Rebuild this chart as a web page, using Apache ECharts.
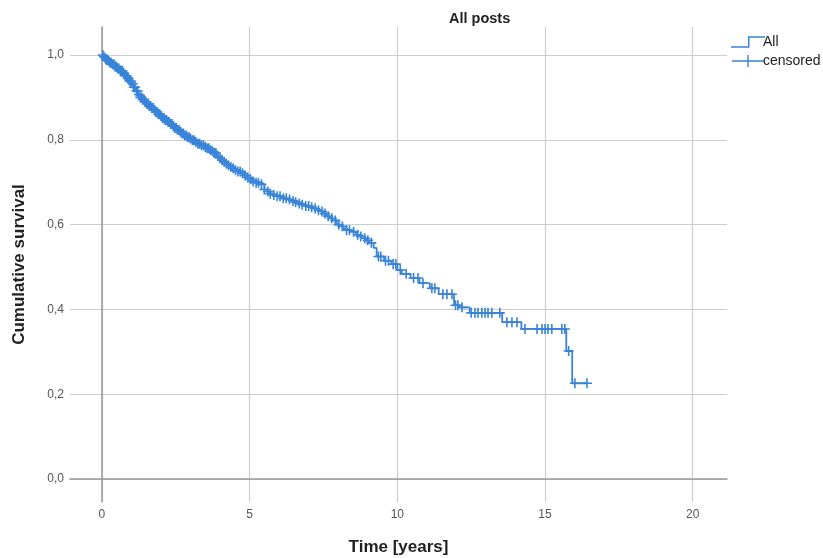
<!DOCTYPE html>
<html>
<head>
<meta charset="utf-8">
<title>All posts</title>
<script src="https://cdn.jsdelivr.net/npm/echarts@6/dist/echarts.min.js"></script>
<style>
  html, body { margin: 0; padding: 0; background: #fff; }
  #chart { width: 823px; height: 558px; }
</style>
</head>
<body>
<div id="chart"></div>
<script>
// Kaplan-Meier curve
const eventTimes = [0, 0.05, 0.1, 0.15, 0.2, 0.27, 0.35, 0.42, 0.5, 0.6, 0.7, 0.78, 0.85, 0.92,
  1.0, 1.08, 1.15, 1.22, 1.3, 1.37, 1.45, 1.52, 1.6, 1.67, 1.75, 1.82, 1.9, 1.97, 2.05, 2.12,
  2.2, 2.3, 2.4, 2.47, 2.55, 2.62, 2.7, 2.8, 2.9, 2.97, 3.05, 3.15, 3.25, 3.35, 3.45, 3.55,
  3.65, 3.72, 3.8, 3.9, 3.97, 4.05, 4.12, 4.2, 4.27, 4.35, 4.42, 4.5, 4.6, 4.7, 4.8, 4.9,
  5.0, 5.1, 5.22, 5.35, 5.5, 5.6, 5.7, 5.8, 5.9, 6.1, 6.25, 6.4, 6.52, 6.65, 6.78, 6.9, 7.02,
  7.15, 7.28, 7.4, 7.5, 7.6, 7.7, 7.8, 7.95, 8.05, 8.15, 8.28, 8.4, 8.6, 8.72, 8.85, 8.95,
  9.05, 9.2, 9.3, 9.55, 9.8, 10.0, 10.15, 10.45, 10.75, 11.1, 11.4, 11.92, 12.1, 12.45,
  13.55, 14.2, 15.72, 15.92];
const survival = [1.0, 0.996, 0.992, 0.988, 0.985, 0.982, 0.978, 0.973, 0.968, 0.963, 0.958,
  0.951, 0.945, 0.938, 0.932, 0.924, 0.915, 0.907, 0.900, 0.895, 0.890, 0.885, 0.880, 0.875,
  0.870, 0.865, 0.860, 0.856, 0.851, 0.847, 0.842, 0.837, 0.832, 0.828, 0.823, 0.819, 0.815,
  0.810, 0.806, 0.803, 0.799, 0.795, 0.791, 0.787, 0.783, 0.780, 0.776, 0.773, 0.769, 0.762,
  0.757, 0.752, 0.748, 0.744, 0.740, 0.736, 0.733, 0.729, 0.725, 0.721, 0.716, 0.711, 0.707,
  0.702, 0.699, 0.695, 0.683, 0.678, 0.673, 0.670, 0.667, 0.662, 0.659, 0.656, 0.653, 0.650,
  0.647, 0.644, 0.641, 0.638, 0.634, 0.631, 0.626, 0.620, 0.615, 0.610, 0.600, 0.596, 0.591,
  0.587, 0.583, 0.576, 0.572, 0.568, 0.563, 0.557, 0.545, 0.525, 0.515, 0.507, 0.493, 0.484,
  0.474, 0.462, 0.450, 0.436, 0.410, 0.405, 0.392, 0.370, 0.354, 0.302, 0.226];
const lastObserved = 16.42;

// censored cases (times)
const censorTimes = [0.03, 0.07, 0.12, 0.15, 0.19, 0.24, 0.28, 0.31, 0.36, 0.41, 0.44, 0.49,
  0.53, 0.57, 0.62, 0.66, 0.69, 0.74, 0.78, 0.83, 0.87, 0.9, 0.95, 0.99, 1.04, 1.08, 1.12, 1.17,
  1.21, 1.25, 1.3, 1.34, 1.38, 1.43, 1.47, 1.52, 1.56, 1.6, 1.65, 1.69, 1.74, 1.78, 1.83, 1.87,
  1.92, 1.96, 2.01, 2.05, 2.1, 2.14, 2.19, 2.24, 2.28, 2.33, 2.37, 2.42, 2.47, 2.52, 2.56, 2.61,
  2.66, 2.71, 2.76, 2.8, 2.85, 2.9, 2.95, 3.0, 3.06, 3.12, 3.18, 3.25, 3.31, 3.37, 3.44, 3.5,
  3.56, 3.62, 3.68, 3.74, 3.8, 3.86, 3.93, 4.0, 4.07, 4.14, 4.21, 4.28, 4.36, 4.44, 4.52, 4.6,
  4.68, 4.76, 4.85, 4.94, 5.03, 5.12, 5.22, 5.3, 5.4, 5.5, 5.62, 5.7, 5.82, 5.93, 6.03, 6.14,
  6.24, 6.35, 6.47, 6.56, 6.68, 6.78, 6.9, 7.0, 7.1, 7.22, 7.33, 7.45, 7.55, 7.66, 7.78, 7.9,
  8.02, 8.14, 8.28, 8.38, 8.52, 8.66, 8.76, 8.9, 9.0, 9.12, 9.36, 9.44, 9.6, 9.7, 9.86, 9.95,
  10.1, 10.3, 10.55, 10.7, 10.87, 11.17, 11.27, 11.54, 11.68, 11.85, 11.97, 12.05, 12.19, 12.5,
  12.63, 12.73, 12.86, 12.97, 13.07, 13.2, 13.47, 13.71, 13.88, 14.05, 14.32, 14.73, 14.9, 15.0,
  15.1, 15.23, 15.57, 15.67, 15.8, 16.01, 16.42];

const xTicks = [0, 5, 10, 15, 20];
const yTicks = [0, 0.2, 0.4, 0.6, 0.8, 1.0];

const blue = "#3884d9";
const font = "Liberation Sans";

// survival value at time t (step function)
const survivalAt = (t) => {
  let s = survival[0];
  for (let i = 0; i < eventTimes.length; i++) {
    if (eventTimes[i] <= t) s = survival[i];
  }
  return s;
};

const lineData = eventTimes.map((t, i) => [t, survival[i]]);
lineData.push([lastObserved, survivalAt(lastObserved)]);
const censorData = censorTimes.map((t) => [t, survivalAt(t)]);

const plusIcon = "path://M0,4.2H10V5.8H0Z M4.2,0H5.8V10H4.2Z";

const chart = echarts.init(document.getElementById("chart"));
chart.setOption({
  animation: false,
  textStyle: { fontFamily: font },
  title: {
    text: "All posts",
    left: 444,
    top: 6,
    textStyle: { fontSize: 14.5, fontWeight: "bold", color: "#222", fontFamily: font },
  },
  legend: {
    orient: "vertical",
    left: 726,
    top: 30,
    itemGap: 5,
    itemWidth: 34,
    itemHeight: 12,
    textStyle: { fontSize: 14, color: "#222", padding: [0, 0, 0, -7] },
    data: [
      { name: "All", icon: "path://M0,10.5H16V1H32V2.4H17.4V11.9H0Z" },
      { name: "censored", icon: "path://M0,5.3H32V6.7H0Z M15.3,0H16.7V12H15.3Z" },
    ],
  },
  grid: { left: 70, right: 96, top: 27, bottom: 56, outerBoundsMode: "none" },
  xAxis: {
    type: "value",
    min: -1.08,
    max: 21.16,
    name: "Time [years]",
    nameLocation: "middle",
    nameGap: 37,
    nameTextStyle: { fontSize: 17, fontWeight: "bold", color: "#222" },
    axisLine: { show: true, lineStyle: { color: "#999", width: 1.5 } },
    axisTick: { show: false, customValues: xTicks },
    axisLabel: { customValues: xTicks, color: "#555", fontSize: 12, margin: 7 },
    splitLine: { show: true, lineStyle: { color: "#cdcdcd", width: 1.2 } },
  },
  yAxis: {
    type: "value",
    min: -0.054,
    max: 1.066,
    name: "Cumulative survival",
    nameLocation: "middle",
    nameGap: 42,
    nameTextStyle: { fontSize: 17, fontWeight: "bold", color: "#222" },
    axisLine: { show: true, lineStyle: { color: "#999", width: 1.5 } },
    axisTick: { show: false, customValues: yTicks },
    axisLabel: {
      customValues: yTicks,
      color: "#555",
      fontSize: 12,
      margin: 6,
      formatter: (v) => v.toFixed(1).replace(".", ","),
    },
    splitLine: { show: true, lineStyle: { color: "#cdcdcd", width: 1.2 } },
  },
  series: [
    {
      name: "All",
      type: "line",
      step: "end",
      data: lineData,
      showSymbol: false,
      symbol: "none",
      lineStyle: { color: blue, width: 1.8 },
      itemStyle: { color: blue },
    },
    {
      name: "censored",
      type: "scatter",
      data: censorData,
      symbol: plusIcon,
      symbolSize: [10, 10],
      itemStyle: { color: blue, opacity: 1 },
    },
  ],
});
</script>
</body>
</html>
